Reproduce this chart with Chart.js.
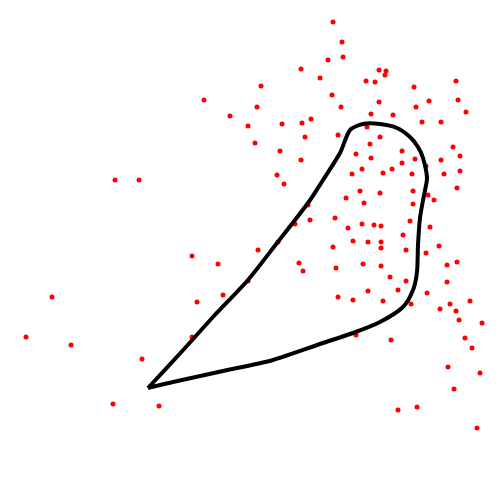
<!DOCTYPE html>
<html>
<head>
<meta charset="utf-8">
<script src="https://cdn.jsdelivr.net/npm/chart.js@4/dist/chart.umd.min.js"></script>
<style>
  html, body { margin: 0; padding: 0; background: #fff; }
  #wrap { width: 500px; height: 500px; }
</style>
</head>
<body>
<div id="wrap"><canvas id="chart" width="500" height="500"></canvas></div>
<script>
// scattered red observations (x, y in plot units, 0..500)
const pointX = [333, 328, 301, 320, 261, 332, 204, 257, 230, 311, 302, 282, 248, 305, 255,
  342, 343, 379, 386, 385, 366, 375, 456, 414, 379, 429, 458, 341, 416, 371, 393, 466, 422, 441, 367, 338, 380, 370, 453,
  115, 139,
  280, 301, 277, 284, 308, 310, 295, 278, 192, 258, 218, 299, 303, 248,
  402, 356, 371, 415, 460, 441, 402, 362, 392, 426, 352, 383, 412, 444, 460,
  360, 380, 413, 457, 428, 434, 346, 364, 413, 335, 410, 348, 362, 374, 381, 430, 403,
  333, 353, 368, 381, 381, 406, 439, 426, 336, 363, 381, 447, 457, 390, 406, 447, 368, 398, 427,
  52, 26, 71, 142, 113, 159, 197, 223, 192,
  338, 353, 383, 411, 440, 450, 456, 470, 459, 482, 356, 391, 465, 472, 448, 480, 454, 398, 417, 477];
const pointY = [478, 440, 431, 422, 414, 405, 400, 393, 384, 381, 377, 376, 374, 363, 357,
  458, 443, 430, 429, 425, 419, 418, 419, 413, 398, 399, 400, 393, 393, 386, 385, 388, 378, 378, 373, 365, 363, 356, 353,
  320, 320,
  349, 340, 325, 316, 295, 280, 276, 258, 244, 250, 236, 237, 229, 219,
  349, 346, 342, 341, 344, 340, 337, 331, 331, 334, 326, 327, 326, 326, 329,
  309, 307, 309, 312, 305, 300, 302, 297, 296, 282, 279, 272, 276, 275, 274, 273, 265,
  253, 259, 258, 258, 252, 250, 254, 247, 232, 236, 234, 235, 238, 223, 219, 218, 209, 210, 207,
  203, 163, 155, 141, 96, 94, 198, 205, 163,
  203, 200, 199, 196, 191, 196, 189, 199, 180, 177, 165, 160, 162, 152, 133, 127, 111, 90, 93, 72];

// closed black outline traced around the cloud
const curveX = [148, 185, 213, 248, 277, 308, 323, 340, 350, 363, 380, 397, 410, 418, 423, 427,
  424, 420, 418, 417, 413, 403, 380, 353, 323, 273, 223, 173, 148];
const curveY = [112, 152, 183, 220, 257, 297, 320, 347, 370, 376, 376, 372, 363, 353, 342, 322,
  305, 282, 255, 228, 210, 193, 178, 167, 157, 140, 129, 118, 112];

const scatterData = pointX.map((x, i) => ({ x, y: pointY[i] }));
const curveData = curveX.map((x, i) => ({ x, y: curveY[i] }));

new Chart(document.getElementById('chart').getContext('2d'), {
  type: 'scatter',
  data: {
    datasets: [
      {
        label: 'outline',
        data: curveData,
        showLine: true,
        borderColor: '#000',
        borderWidth: 4,
        tension: 0.25,
        pointRadius: 0,
        fill: false,
        order: 1
      },
      {
        label: 'points',
        data: scatterData,
        backgroundColor: '#ff0000',
        borderWidth: 0,
        pointRadius: 2.5,
        order: 2
      }
    ]
  },
  options: {
    responsive: false,
    animation: false,
    layout: { padding: 0, autoPadding: false },
    plugins: { legend: { display: false }, tooltip: { enabled: false } },
    scales: {
      x: { type: 'linear', min: 0, max: 500, display: false },
      y: { type: 'linear', min: 0, max: 500, display: false }
    }
  }
});
</script>
</body>
</html>
